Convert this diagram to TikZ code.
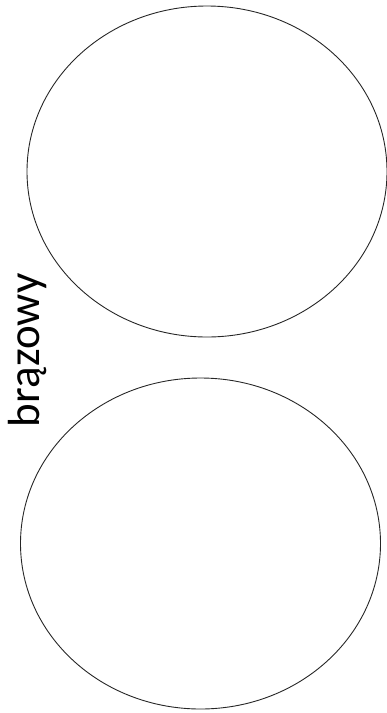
\documentclass[tikz,border=0pt]{standalone}
\usepackage{fontspec}
\setmainfont{Carlito}
\usetikzlibrary{shapes.geometric}

\begin{document}
\begin{tikzpicture}[
  x=1pt, y=-1pt,
  bowl/.style={
    draw=black!85,
    ellipse,
    line width=0.9pt,
    inner sep=0pt,
    minimum width=360pt,
    minimum height=331pt
  },
  colorname/.style={font=\fontsize{45}{54}\selectfont, inner sep=0pt, rotate=90}
]
\useasboundingbox (0,0) rectangle (387,713);

% two ellipses
\node[bowl] (topbowl) at (207,171.5) {};
\node[bowl] (bottombowl) at (200.5,543.5) {};

% label between them
\node[colorname] (brown) at (28,350.5) {brązowy};

\end{tikzpicture}
\end{document}
